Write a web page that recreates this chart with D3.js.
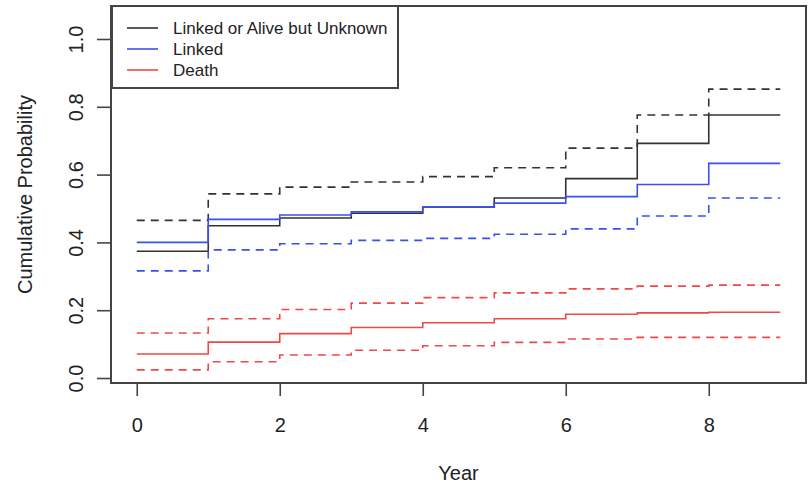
<!DOCTYPE html>
<html>
<head>
<meta charset="utf-8">
<script src="https://cdn.jsdelivr.net/npm/d3@7"></script>
<style>
  body { margin: 0; background: #fff; }
  text { font-family: "Liberation Sans", Arial, sans-serif; fill: #222; }
</style>
</head>
<body>
<script>
// step starts (year) for each interval
var years = [0, 1, 2, 3, 4, 5, 6, 7, 8];
var yearEnd = 9;

var unknownEst   = [0.374, 0.449, 0.472, 0.486, 0.504, 0.531, 0.588, 0.692, 0.776];
var unknownUpper = [0.465, 0.543, 0.563, 0.578, 0.594, 0.620, 0.678, 0.776, 0.852];
var linkedEst    = [0.400, 0.468, 0.481, 0.490, 0.504, 0.516, 0.535, 0.571, 0.633];
var linkedLower  = [0.316, 0.378, 0.396, 0.406, 0.412, 0.424, 0.440, 0.478, 0.531];
var deathEst     = [0.071, 0.106, 0.131, 0.149, 0.163, 0.175, 0.188, 0.192, 0.194];
var deathUpper   = [0.133, 0.175, 0.202, 0.221, 0.237, 0.251, 0.263, 0.271, 0.274];
var deathLower   = [0.024, 0.048, 0.068, 0.082, 0.095, 0.105, 0.115, 0.120, 0.120];

var legendLabels = ["Linked or Alive but Unknown", "Linked", "Death"];
var xTicks = [0, 2, 4, 6, 8];
var yTicks = [0, 0.2, 0.4, 0.6, 0.8, 1.0];

var W = 808, H = 484;
var box = {left: 111, right: 806, top: 6, bottom: 383};

var cBlack = "#333333", cBlue = "#3b4ff0", cRed = "#f04848";

var svg = d3.select("body").append("svg")
    .attr("width", W).attr("height", H);

var x = d3.scaleLinear().domain([-0.36, 9.36]).range([box.left, box.right]);
var y = d3.scaleLinear().domain([-0.0147, 1.0973]).range([box.bottom, box.top]);

var line = d3.line()
    .x(function(d){ return x(d[0]); })
    .y(function(d){ return y(d[1]); })
    .curve(d3.curveStepAfter);

// add closing point at the final year
function pts(vals) {
  var p = years.map(function(t, i){ return [t, vals[i]]; });
  p.push([yearEnd, vals[vals.length - 1]]);
  return p;
}

var series = [
  {v: unknownUpper, col: cBlack, dash: "8,6"},
  {v: unknownEst,   col: cBlack, dash: null},
  {v: linkedLower,  col: cBlue,  dash: "8,6"},
  {v: linkedEst,    col: cBlue,  dash: null},
  {v: deathUpper,   col: cRed,   dash: "8,6"},
  {v: deathLower,   col: cRed,   dash: "8,6"},
  {v: deathEst,     col: cRed,   dash: null}
];

svg.append("g").selectAll("path").data(series)
  .enter().append("path")
    .attr("d", function(d){ return line(pts(d.v)); })
    .attr("fill", "none")
    .attr("stroke", function(d){ return d.col; })
    .attr("stroke-width", 1.6)
    .attr("stroke-dasharray", function(d){ return d.dash; });

// x axis
var xa = svg.append("g")
    .attr("transform", "translate(0," + box.bottom + ")")
    .call(d3.axisBottom(x).tickValues(xTicks).tickFormat(d3.format("d")).tickSize(13).tickPadding(0));
xa.select(".domain").remove();
xa.selectAll("line").attr("stroke", "#444").attr("stroke-width", 1.6);
xa.selectAll("text")
    .attr("y", 42).attr("dy", null)
    .attr("dominant-baseline", "central")
    .style("font-size", "20px");

// y axis
var ya = svg.append("g")
    .attr("transform", "translate(" + box.left + ",0)")
    .call(d3.axisLeft(y).tickValues(yTicks).tickFormat(d3.format(".1f")).tickSize(14));
ya.select(".domain").remove();
ya.selectAll("line").attr("stroke", "#444").attr("stroke-width", 1.6);
ya.selectAll("text")
    .attr("transform", "rotate(-90)")
    .attr("x", 0).attr("y", -35).attr("dy", null)
    .attr("text-anchor", "middle")
    .attr("dominant-baseline", "central")
    .style("font-size", "20px");

// plot frame
svg.append("rect")
    .attr("x", box.left).attr("y", box.top)
    .attr("width", box.right - box.left).attr("height", box.bottom - box.top)
    .attr("fill", "none").attr("stroke", "#444").attr("stroke-width", 2);

// axis titles
svg.append("text")
    .attr("x", x(4.5)).attr("y", 473)
    .attr("text-anchor", "middle").attr("dominant-baseline", "central")
    .style("font-size", "20px").text("Year");

svg.append("text")
    .attr("transform", "translate(25," + ((box.top + box.bottom) / 2) + ") rotate(-90)")
    .attr("text-anchor", "middle").attr("dominant-baseline", "central")
    .style("font-size", "20px").text("Cumulative Probability");

// legend
var lg = svg.append("g");
lg.append("rect")
    .attr("x", 112).attr("y", 6).attr("width", 286).attr("height", 82)
    .attr("fill", "#fff").attr("stroke", "#444").attr("stroke-width", 2);
var legendCols = [cBlack, cBlue, cRed];
var rows = lg.selectAll("g.row").data(legendLabels)
  .enter().append("g").attr("class", "row")
    .attr("transform", function(d, i){ return "translate(0," + (28 + i * 21) + ")"; });
rows.append("line")
    .attr("x1", 127).attr("x2", 158)
    .attr("stroke", function(d, i){ return legendCols[i]; })
    .attr("stroke-width", 1.6);
rows.append("text")
    .attr("x", 173).attr("dominant-baseline", "central")
    .style("font-size", "17px")
    .text(function(d){ return d; });
</script>
</body>
</html>
